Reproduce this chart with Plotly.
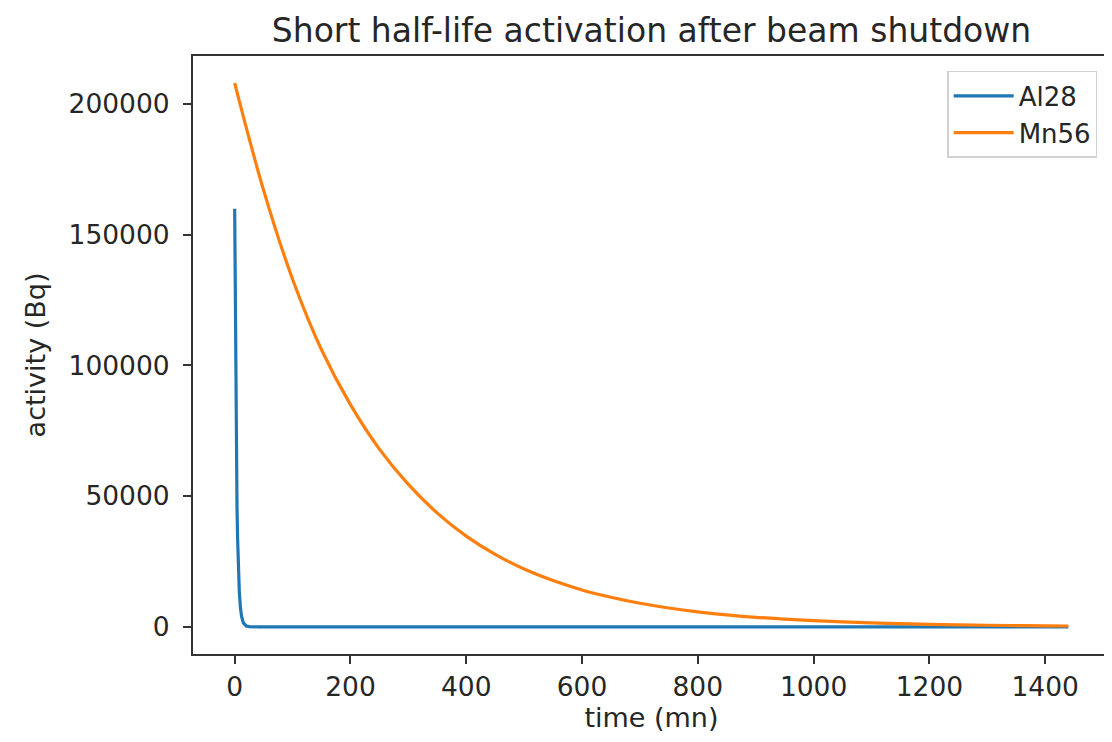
import plotly.graph_objects as go

# Al28 activity (Bq) vs time (mn)
al28_time = [0, 1, 2, 3, 4, 5, 6, 8, 10, 12, 15, 20, 25, 30, 40, 100, 400, 800, 1200, 1440]
al28_activity = [160000, 117000, 86000, 63000, 46000, 34000, 25000, 13500, 7200, 3900,
                 1500, 330, 70, 15, 0, 0, 0, 0, 0, 0]

# Mn56 activity (Bq) vs time (mn)
mn56_time = [0, 50, 100, 150, 200, 250, 300, 350, 400, 450, 500, 550, 600, 650, 700,
             750, 800, 850, 900, 950, 1000, 1050, 1100, 1150, 1200, 1250, 1300, 1350,
             1400, 1440]
mn56_activity = [208000, 167000, 133000, 106000, 85000, 68000, 54500, 43500, 34700,
                 27700, 22100, 17700, 14100, 11300, 9000, 7200, 5750, 4600, 3650, 2950,
                 2350, 1870, 1500, 1190, 950, 760, 605, 485, 385, 320]

x_ticks = [0, 200, 400, 600, 800, 1000, 1200, 1400]
y_ticks = [0, 50000, 100000, 150000, 200000]

FONT = "DejaVu Sans"
TXT = "#262626"

fig = go.Figure()
fig.add_trace(go.Scatter(x=al28_time, y=al28_activity, mode="lines", name="Al28",
                         line=dict(color="#1f77b4", width=3.2)))
fig.add_trace(go.Scatter(x=mn56_time, y=mn56_activity, mode="lines", name="Mn56",
                         line=dict(color="#ff7f0e", width=3.2, shape="spline")))

axis_common = dict(showline=True, linecolor="#333333", linewidth=2, mirror=True,
                   ticks="outside", ticklen=8, tickwidth=1.5, tickcolor="#333333",
                   showgrid=False, zeroline=False,
                   tickfont=dict(family=FONT, size=26.5, color=TXT))

fig.update_layout(
    width=1104, height=734,
    paper_bgcolor="white", plot_bgcolor="white",
    margin=dict(l=185, r=2, t=48, b=88, autoexpand=False),
    title=dict(text="Short half-life activation after beam shutdown", x=0.5, xanchor="center",
               y=0.970, yanchor="middle", xref="paper",
               font=dict(family=FONT, size=33, color=TXT)),
    xaxis=dict(range=[-72, 1512], tickvals=x_ticks, ticktext=[str(v) for v in x_ticks],
               title=dict(text="time (mn)", font=dict(family=FONT, size=27, color=TXT), standoff=4),
               **axis_common),
    yaxis=dict(range=[-10400, 218400], tickvals=y_ticks, ticktext=[str(v) for v in y_ticks],
               ticklabelstandoff=8,
               title=dict(text="activity (Bq)", font=dict(family=FONT, size=27, color=TXT), standoff=15),
               **axis_common),
    legend=dict(x=0.986, y=0.975, xanchor="right", yanchor="top",
                bgcolor="rgba(255,255,255,0.8)", bordercolor="#d0d0d0", borderwidth=1.5,
                itemwidth=60, tracegroupgap=0,
                font=dict(family=FONT, size=26, color=TXT)),
    showlegend=True,
)

fig.write_html("out.html")
